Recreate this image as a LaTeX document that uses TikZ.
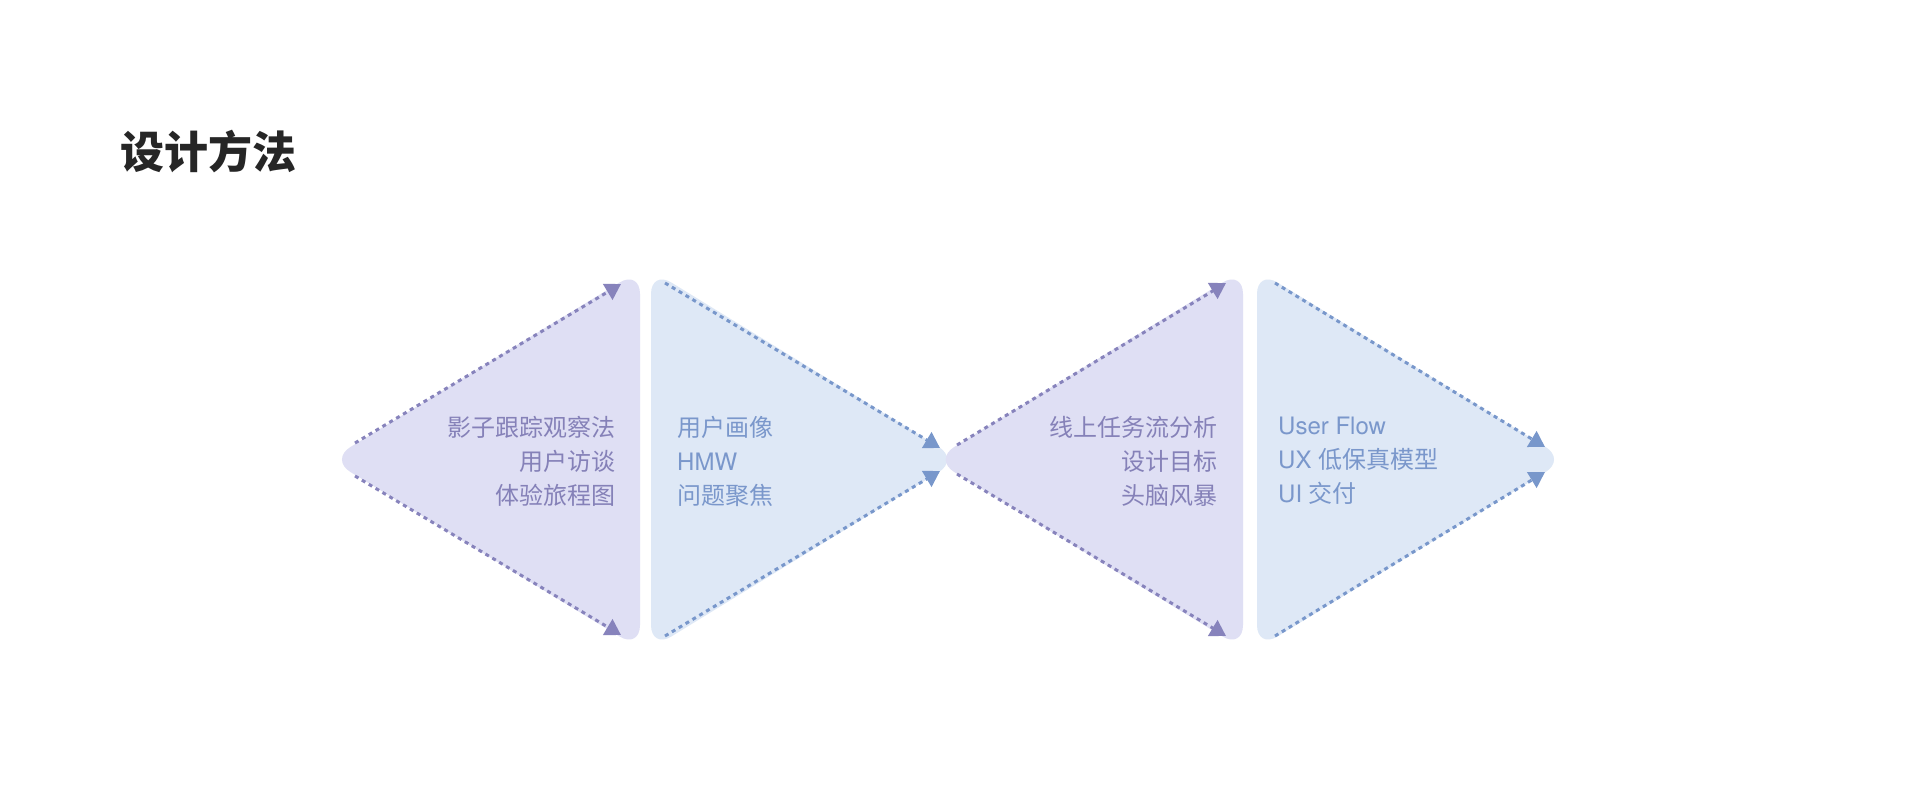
\documentclass[tikz,border=0pt]{standalone}
\usepackage{fontspec}
\newfontfamily\cjk{Noto Sans CJK SC}
\newfontfamily\lat{TeX Gyre Heros}
\usetikzlibrary{arrows.meta,calc}
\definecolor{pfill}{HTML}{DFDFF4}
\definecolor{bfill}{HTML}{DEE8F6}
\definecolor{pline}{HTML}{8783BC}
\definecolor{bline}{HTML}{7897CB}
\definecolor{ptext}{HTML}{8581B8}
\definecolor{btext}{HTML}{7A97CB}
\definecolor{titlec}{HTML}{262626}
\newcommand{\lt}[1]{{\lat #1}}
\tikzset{
  tri/.style={rounded corners=24pt},
  flowline/.style={line width=3pt, dash pattern=on 4pt off 4pt,
    -{Triangle[length=15.5pt,width=18pt]}},
  bodytext/.style={font=\cjk\fontsize{24}{34}\selectfont, inner sep=0pt},
}
\begin{document}
\begin{tikzpicture}[x=1pt,y=-1pt]
\useasboundingbox[fill=white] (0,0) rectangle (1920,797);
% triangle vertices
\coordinate (a1) at (330,459.5);
\coordinate (b1) at (640,270);
\coordinate (c1) at (640,649);
\coordinate (d2) at (651,270);
\coordinate (e2) at (651,649);
\coordinate (f2) at (959.2,459.5);
\coordinate (a3) at (933.8,459.5);
\coordinate (b3) at (1243,270);
\coordinate (c3) at (1243,649);
\coordinate (d4) at (1257,270);
\coordinate (e4) at (1257,649);
\coordinate (f4) at (1566,459.5);
% arrow ends
\coordinate (s1t) at (355,443);   \coordinate (x1t) at (621,284);
\coordinate (s1b) at (355,476);   \coordinate (x1b) at (621,635);
\coordinate (s2t) at (665,283);   \coordinate (x2t) at (940,448);
\coordinate (s2b) at (665,636);   \coordinate (x2b) at (940,471);
\coordinate (s3t) at (957,445);   \coordinate (x3t) at (1226,283);
\coordinate (s3b) at (957,474);   \coordinate (x3b) at (1226,636);
\coordinate (s4t) at (1275,283);  \coordinate (x4t) at (1545,447);
\coordinate (s4b) at (1275,636);  \coordinate (x4b) at (1545,472);
% fills
\fill[pfill,tri] (a1) -- (b1) -- (c1) -- cycle;
\fill[bfill,tri] (d2) -- (f2) -- (e2) -- cycle;
\fill[pfill,tri] (a3) -- (b3) -- (c3) -- cycle;
\fill[bfill,tri] (d4) -- (f4) -- (e4) -- cycle;
% dotted arrows
\draw[flowline,pline] (s1t) -- (x1t);
\draw[flowline,pline] (s1b) -- (x1b);
\draw[flowline,bline] (s2t) -- (x2t);
\draw[flowline,bline] (s2b) -- (x2b);
\draw[flowline,pline] (s3t) -- (x3t);
\draw[flowline,pline] (s3b) -- (x3b);
\draw[flowline,bline] (s4t) -- (x4t);
\draw[flowline,bline] (s4b) -- (x4b);
% texts
\node[anchor=west, font=\cjk\bfseries\fontsize{44}{50}\selectfont, text=titlec, inner sep=0pt] (title) at (120,152) {设计方法};
\node[bodytext, anchor=east, align=right, text=ptext] (t1) at (616,461) {影子跟踪观察法\\用户访谈\\体验旅程图};
\node[bodytext, anchor=west, align=left, text=btext] (t2) at (677,461) {用户画像\\\lt{HMW}\\问题聚焦};
\node[bodytext, anchor=east, align=right, text=ptext] (t3) at (1218,461) {线上任务流分析\\设计目标\\头脑风暴};
\node[bodytext, anchor=west, align=left, text=btext] (t4) at (1278,461) {\lt{User Flow}\\\lt{UX }低保真模型\\\lt{UI }交付};
\end{tikzpicture}
\end{document}
